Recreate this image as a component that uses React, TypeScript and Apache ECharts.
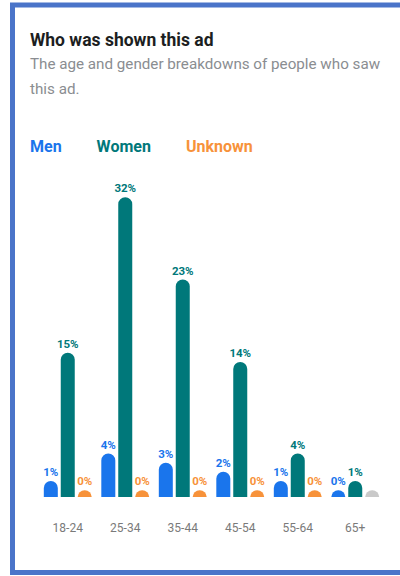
import React, { useEffect, useRef } from "react";
import * as echarts from "echarts";

const categories = ["18-24", "25-34", "35-44", "45-54", "55-64", "65+"];
const menValues = [1, 4, 3, 2, 1, 0];
const womenValues = [15, 32, 23, 14, 4, 1];
const unknownValues = [0, 0, 0, 0, 0, 0];
// the 65+ "Unknown" bar is shown greyed out, without a label
const unknownMissing = [false, false, false, false, false, true];

const MEN = "#1a75ec";
const WOMEN = "#00787a";
const UNKNOWN = "#f7923a";
const GREY = "#c9c9c9";
const FONT = "Roboto, 'Noto Sans', Arial, sans-serif";

export default function App() {
  const ref = useRef<HTMLDivElement>(null);
  useEffect(() => {
    if (!ref.current) return;
    const chart = echarts.init(ref.current, undefined, { renderer: "svg" });
    const base = -0.75;
    const mkSeries = (name: string, color: string, values: number[], missing?: boolean[]) => ({
      name,
      type: "bar",
      barWidth: 14,
      barGap: "21%",
      startValue: base,
      itemStyle: { color, borderRadius: [7, 7, 0, 0] },
      label: {
        show: true,
        position: "top",
        distance: 3,
        color,
        fontFamily: FONT,
        fontSize: 11.5,
        fontWeight: "bold",
        formatter: (p: any) => `${p.value}%`,
      },
      data: values.map((v, i) =>
        missing && missing[i]
          ? { value: v, itemStyle: { color: GREY }, label: { show: false } }
          : v
      ),
    });
    chart.setOption({
      animation: false,
      backgroundColor: "#ffffff",
      textStyle: { fontFamily: FONT },
      legend: {
        left: 20,
        top: 133,
        icon: "none",
        itemWidth: 0,
        itemHeight: 0,
        itemGap: 30,
        selectedMode: false,
        textStyle: { fontSize: 16, fontWeight: "bold", fontFamily: FONT },
        data: [
          { name: "Men", textStyle: { color: MEN } },
          { name: "Women", textStyle: { color: WOMEN } },
          { name: "Unknown", textStyle: { color: UNKNOWN } },
        ],
      },
      grid: { left: 39, right: 16, top: 188, bottom: 79, containLabel: false },
      xAxis: {
        type: "category",
        data: categories,
        axisLine: { show: false },
        axisTick: { show: false },
        axisLabel: { color: "#7a7a7a", fontSize: 12, margin: 25, fontFamily: FONT },
      },
      yAxis: {
        type: "value",
        min: base,
        max: 33,
        startValue: base,
        show: false,
        splitLine: { show: false },
      },
      series: [
        mkSeries("Men", MEN, menValues),
        mkSeries("Women", WOMEN, womenValues),
        mkSeries("Unknown", UNKNOWN, unknownValues, unknownMissing),
      ],
      graphic: [
        {
          type: "rect",
          shape: { x: 12.5, y: 5, width: 400, height: 567.5 },
          style: { fill: "none", stroke: "#4a74c9", lineWidth: 5 },
          silent: true,
        },
        {
          type: "text",
          x: 30,
          y: 40,
          style: {
            text: "Who was shown this ad",
            fill: "#1c1e21",
            font: `bold 17.5px ${FONT}`,
            textVerticalAlign: "middle",
          },
        },
        {
          type: "text",
          x: 30,
          y: 64,
          style: {
            text: "The age and gender breakdowns of people who saw",
            fill: "#8a8d91",
            font: `15.2px ${FONT}`,
            textVerticalAlign: "middle",
          },
        },
        {
          type: "text",
          x: 30,
          y: 89,
          style: {
            text: "this ad.",
            fill: "#8a8d91",
            font: `15.2px ${FONT}`,
            textVerticalAlign: "middle",
          },
        },
      ],
    });
    return () => chart.dispose();
  }, []);
  return (
    <div
      ref={ref}
      style={{ position: "absolute", left: 0, top: 0, width: 400, height: 576 }}
    />
  );
}
